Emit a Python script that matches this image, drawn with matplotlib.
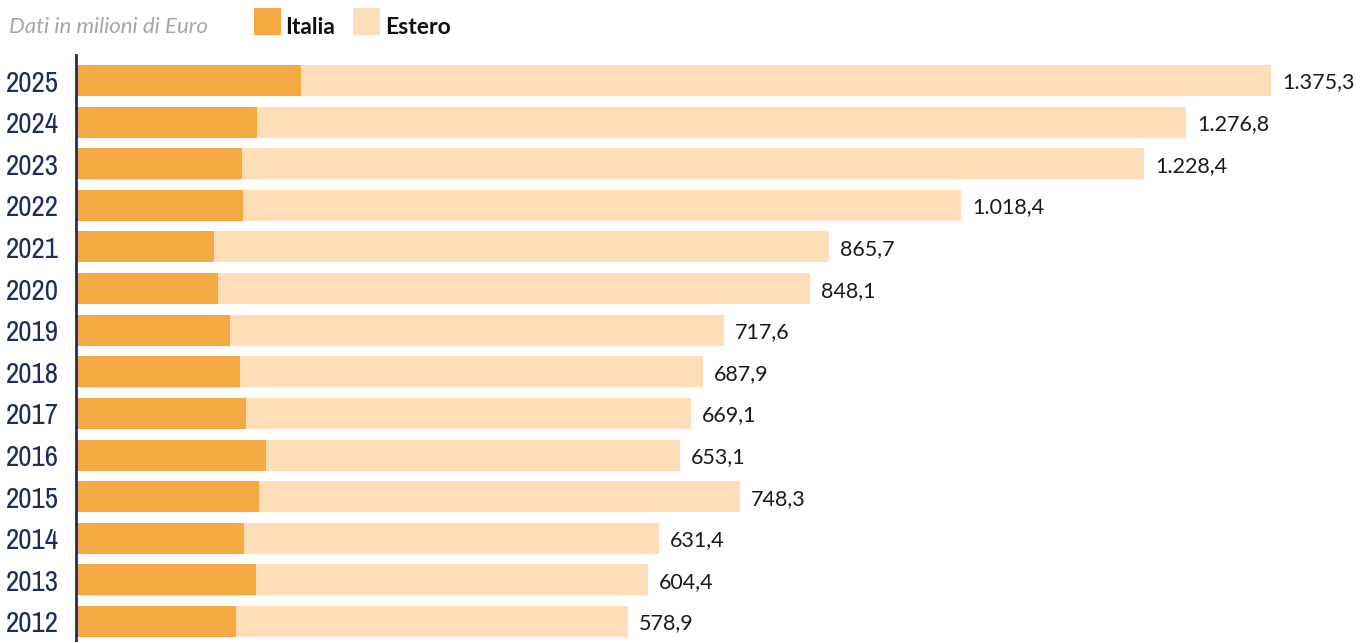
import matplotlib
matplotlib.use("Agg")
import matplotlib.pyplot as plt
from matplotlib.patches import Rectangle
from matplotlib import font_manager as fm

# Data (bar lengths, labels as printed)
anni = [2012, 2013, 2014, 2015, 2016, 2017, 2018, 2019, 2020, 2021, 2022, 2023, 2024, 2025]
italia = [184.1, 207.2, 193.3, 210.6, 218.7, 195.6, 188.7, 177.2, 163.4, 158.8, 192.2, 191.0, 208.3, 259.0]
estero = [451.2, 451.1, 477.7, 553.6, 476.4, 512.2, 532.9, 568.6, 681.3, 707.8, 826.3, 1038.1, 1069.2, 1116.3]
totali = [578.9, 604.4, 631.4, 748.3, 653.1, 669.1, 687.9, 717.6, 848.1, 865.7, 1018.4, 1228.4, 1276.8, 1375.3]

C_IT = "#F5A942"
C_EST = "#FDDEB9"
NAVY = "#1F2D5C"

_avail = set(f.name for f in fm.fontManager.ttflist)
def pick(*names):
    for n in names:
        if n in _avail:
            return [n, "DejaVu Sans"]
    return ["DejaVu Sans"]

F_YEAR = pick("Archivo Narrow", "Asap Condensed", "Liberation Sans Narrow", "Roboto Condensed")
F_TXT = pick("Lato", "Open Sans")

def fmt_it(v):
    s = f"{v:,.1f}"
    return s.replace(",", "X").replace(".", ",").replace("X", ".")

W, H = 1356, 642
fig = plt.figure(figsize=(W / 100, H / 100), dpi=100)
left_px, top_px, bottom_px = 76, 55, 642
ax = fig.add_axes([left_px / W, 0, (W - left_px) / W, (bottom_px - top_px) / H])

px_per_unit = 0.8689
pitch = 41.615
ax.set_xlim(0, (W - left_px) / px_per_unit)
ax.set_ylim((621.5 - 642) / pitch, (621.5 - 55) / pitch)

ypos = list(range(len(anni)))
ax.barh(ypos, italia, height=0.745, color=C_IT, linewidth=0)
ax.barh(ypos, estero, left=italia, height=0.745, color=C_EST, linewidth=0)

for y, it, es, t in zip(ypos, italia, estero, totali):
    ax.text(it + es + 11 / px_per_unit, y - 0.05, fmt_it(t), va="center", ha="left",
            fontsize=15.5, color="#1a1a1a", family=F_TXT)

ax.set_yticks(ypos)
ax.set_yticklabels([str(a) for a in anni], family=F_YEAR, fontsize=21, color=NAVY,
                   fontweight="normal")
ax.tick_params(axis="y", length=0, pad=12)
ax.set_xticks([])
for s in ["top", "right", "bottom"]:
    ax.spines[s].set_visible(False)
ax.spines["left"].set_color(NAVY)
ax.spines["left"].set_linewidth(2.0)

# Header / legend
fig.text(9 / W, 1 - 27 / H, "Dati in milioni di Euro", fontsize=16, style="italic",
         color="#A6A6A6", va="center", ha="left", family=F_TXT)
fig.patches.append(Rectangle((254 / W, 1 - 35 / H), 27 / W, 27 / H, transform=fig.transFigure,
                             facecolor=C_IT, edgecolor="none"))
fig.text(285 / W, 1 - 27 / H, "Italia", fontsize=16.5, weight="bold", color="#111111",
         va="center", ha="left", family=F_TXT)
fig.patches.append(Rectangle((353 / W, 1 - 35 / H), 27 / W, 27 / H, transform=fig.transFigure,
                             facecolor=C_EST, edgecolor="none"))
fig.text(385 / W, 1 - 27 / H, "Estero", fontsize=16.5, weight="bold", color="#111111",
         va="center", ha="left", family=F_TXT)

fig.savefig("out.png", dpi=100)
